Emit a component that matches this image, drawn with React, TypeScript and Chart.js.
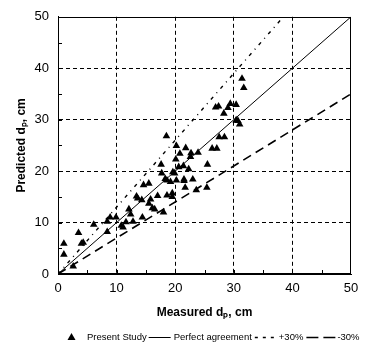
import React, { useEffect, useRef } from "react";
import { Chart, registerables } from "chart.js";

Chart.register(...registerables);

// Measured dp (cm) and predicted dp (cm) for the present study
const measured = [
  1.0, 1.0, 2.6, 3.5, 4.0, 4.3, 6.1, 8.4, 8.4, 8.9, 9.9, 10.8, 11.1, 11.6, 12.1, 12.4, 12.8,
  13.4, 13.6, 14.3, 14.4, 14.6, 15.5, 15.5, 15.8, 16.1, 16.5, 17.0, 17.6, 17.7, 18.0, 18.3,
  18.5, 18.6, 18.6, 19.2, 19.5, 19.5, 19.6, 19.9, 20.2, 20.1, 20.2, 20.6, 20.8, 21.4, 21.5,
  21.5, 21.7, 21.8, 22.3, 22.6, 22.7, 23.0, 23.6, 23.9, 25.5, 25.4, 26.3, 27.1, 26.9, 27.4,
  27.5, 28.4, 28.3, 29.0, 29.4, 30.4, 30.4, 30.7, 31.0, 31.4, 31.7,
];
const predicted = [
  5.9, 3.8, 1.5, 8.0, 5.9, 6.1, 9.6, 10.2, 8.2, 11.0, 11.0, 9.4, 9.1, 10.1, 12.6, 11.6, 10.2,
  15.1, 14.7, 14.4, 11.0, 17.3, 17.6, 13.7, 14.5, 12.8, 12.6, 15.2, 21.3, 19.6, 12.0, 18.5,
  26.8, 18.2, 15.3, 17.9, 15.7, 15.0, 19.8, 19.6, 24.9, 22.3, 18.2, 20.8, 23.4, 21.0, 18.4,
  18.1, 16.8, 24.5, 20.4, 22.8, 23.5, 18.4, 16.3, 23.6, 21.3, 16.8, 24.4, 24.4, 32.4, 32.6,
  26.6, 26.6, 31.2, 32.3, 33.1, 32.9, 29.9, 29.8, 29.1, 38.0, 36.2,
];

// Reference lines (end points)
const perfectX = [0, 50];
const perfectY = [0, 50];
const plus30X = [0, 38.46];
const plus30Y = [0, 50];
const minus30X = [0, 50];
const minus30Y = [0, 35];

const axisMin = 0;
const axisMax = 50;
const majorStep = 10;
const minorStep = 5;

const xTitle = "Measured d\u209A, cm";
const yTitle = "Predicted d\u209A, cm";
const legendLabels = ["Present Study", "Perfect agreement", "+30%", "-30%"];

const FONT = '"Liberation Sans", Arial, Helvetica, sans-serif';
const DASH_PLUS = [3.5, 5, 1, 5];
const DASH_MINUS = [9, 5.5];

const toPts = (xs: number[], ys: number[]) => xs.map((x, i) => ({ x, y: ys[i] }));

const decorPlugin = {
  id: "decor",
  afterDraw(chart: any) {
    const { ctx, chartArea, scales } = chart;
    const xs = scales.x;
    const ys = scales.y;
    ctx.save();
    // frame
    ctx.strokeStyle = "#000";
    ctx.lineWidth = 1;
    ctx.setLineDash([]);
    ctx.strokeRect(
      Math.round(chartArea.left) + 0.5,
      Math.round(chartArea.top) + 0.5,
      Math.round(chartArea.right - chartArea.left) - 1,
      Math.round(chartArea.bottom - chartArea.top) - 1
    );
    // inward minor ticks
    ctx.beginPath();
    for (let v = axisMin + minorStep; v < axisMax; v += minorStep) {
      const px = Math.round(xs.getPixelForValue(v)) + 0.5;
      ctx.moveTo(px, chartArea.bottom);
      ctx.lineTo(px, chartArea.bottom - 4);
      const py = Math.round(ys.getPixelForValue(v)) + 0.5;
      ctx.moveTo(chartArea.left, py);
      ctx.lineTo(chartArea.left + 4, py);
    }
    ctx.stroke();

    // legend
    const y = 337;
    ctx.font = `9.5px ${FONT}`;
    ctx.fillStyle = "#000";
    ctx.textBaseline = "middle";
    ctx.textAlign = "left";
    let x = 68;
    // triangle marker
    ctx.beginPath();
    ctx.moveTo(x + 3.5, y - 4);
    ctx.lineTo(x + 7.5, y + 3);
    ctx.lineTo(x - 0.5, y + 3);
    ctx.closePath();
    ctx.fill();
    x = 87;
    ctx.fillText(legendLabels[0], x, y);
    x += ctx.measureText(legendLabels[0]).width + 2;

    const seg = (x1: number, len: number, dash: number[], w: number) => {
      ctx.save();
      ctx.lineWidth = w;
      ctx.setLineDash(dash);
      ctx.beginPath();
      ctx.moveTo(x1, y + 0.5);
      ctx.lineTo(x1 + len, y + 0.5);
      ctx.stroke();
      ctx.restore();
    };
    seg(x, 22, [], 1);
    x += 25;
    ctx.fillText(legendLabels[1], x, y);
    x += ctx.measureText(legendLabels[1]).width + 3;
    seg(x, 20, [3, 5], 1.3);
    x += 24;
    ctx.fillText(legendLabels[2], x, y);
    x += ctx.measureText(legendLabels[2]).width + 3;
    seg(x, 30, [12, 5], 1.4);
    x += 31;
    ctx.fillText(legendLabels[3], x, y);
    ctx.restore();
  },
};

export default function App() {
  const ref = useRef<HTMLCanvasElement | null>(null);
  useEffect(() => {
    document.body.style.margin = "0";
    const canvas = ref.current;
    if (!canvas) return;
    const gridColor = (c: any) => {
      const v = c.tick ? c.tick.value : 0;
      return v === axisMin || v === axisMax ? "rgba(0,0,0,0)" : "#000";
    };
    const chart = new Chart(canvas, {
      type: "scatter",
      data: {
        datasets: [
          {
            label: legendLabels[0],
            data: toPts(measured, predicted),
            pointStyle: "triangle",
            pointRadius: 4.4,
            pointBackgroundColor: "#000",
            pointBorderWidth: 0,
            showLine: false,
          },
          {
            label: legendLabels[1],
            data: toPts(perfectX, perfectY),
            showLine: true,
            borderColor: "#000",
            borderWidth: 1,
            pointRadius: 0,
          },
          {
            label: legendLabels[2],
            data: toPts(plus30X, plus30Y),
            showLine: true,
            borderColor: "#000",
            borderWidth: 1.4,
            borderDash: DASH_PLUS,
            pointRadius: 0,
          },
          {
            label: legendLabels[3],
            data: toPts(minus30X, minus30Y),
            showLine: true,
            borderColor: "#000",
            borderWidth: 1.6,
            borderDash: DASH_MINUS,
            pointRadius: 0,
          },
        ],
      },
      options: {
        animation: false,
        responsive: false,
        devicePixelRatio: 1,
        layout: { padding: { top: 15, right: 18, left: 0, bottom: 0 } },
        plugins: { legend: { display: false }, tooltip: { enabled: false } },
        scales: {
          x: {
            type: "linear",
            min: axisMin,
            max: axisMax,
            afterFit: (s: any) => {
              s.height = 78;
            },
            ticks: {
              stepSize: majorStep,
              color: "#000",
              padding: 7,
              font: { family: FONT, size: 13 },
            },
            grid: { color: gridColor, lineWidth: 1, drawTicks: false },
            border: { display: true, color: "#000", dash: [4, 3] },
            title: {
              display: true,
              text: xTitle,
              color: "#000",
              font: { family: FONT, size: 12, weight: "bold" },
              padding: { top: 0, bottom: 31.8 },
            },
          },
          y: {
            type: "linear",
            min: axisMin,
            max: axisMax,
            afterFit: (s: any) => {
              s.width = 58;
            },
            ticks: {
              stepSize: majorStep,
              color: "#000",
              padding: 9,
              font: { family: FONT, size: 13 },
            },
            grid: { color: gridColor, lineWidth: 1, drawTicks: false },
            border: { display: true, color: "#000", dash: [4, 3] },
            title: {
              display: true,
              text: yTitle,
              color: "#000",
              font: { family: FONT, size: 12, weight: "bold" },
              padding: { top: 14.8, bottom: 0 },
            },
          },
        },
      },
      plugins: [decorPlugin],
    });
    return () => chart.destroy();
  }, []);
  return (
    <div style={{ width: 369, height: 352, background: "#fff" }}>
      <canvas ref={ref} width={369} height={352} />
    </div>
  );
}
